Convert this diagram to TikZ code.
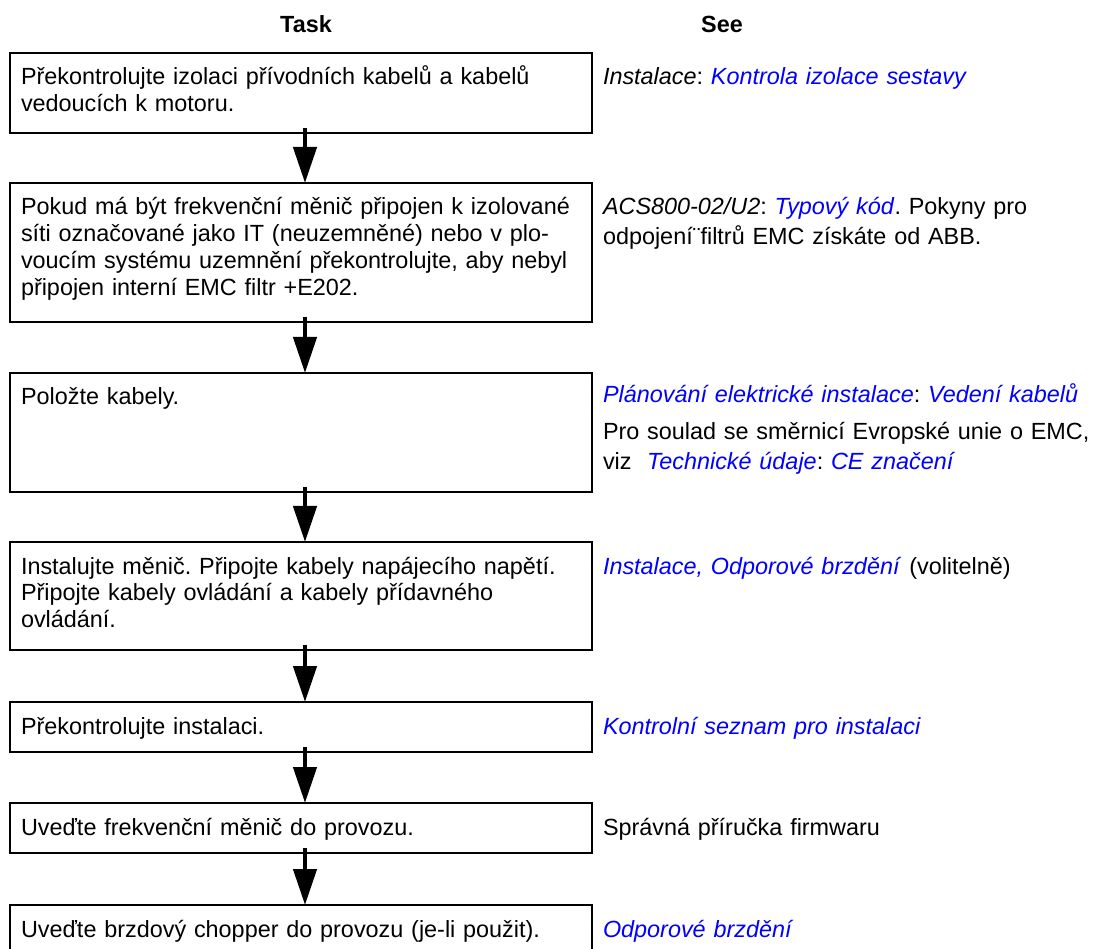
\documentclass[tikz,border=0pt]{standalone}
\usepackage{fontspec}
\setmainfont{Liberation Sans}
\usepackage{tikz}
\usetikzlibrary{arrows.meta}
\definecolor{linkblue}{RGB}{0,0,255}
\newcommand{\link}[1]{\textcolor{linkblue}{\textit{#1}}}
\frenchspacing

\begin{document}
\begin{tikzpicture}[x=1pt,y=-1pt,
  every node/.style={font=\fontsize{23.4pt}{26.7pt}\selectfont, outer sep=0pt},
  head/.style={anchor=base, font=\bfseries\fontsize{23.4pt}{26pt}\selectfont},
  box/.style={draw, line width=2pt, anchor=north west, minimum width=582pt, inner sep=0pt},
  txt/.style={anchor=base west, align=left, text width=575pt, inner sep=0pt},
  see/.style={anchor=base west, align=left, text width=520pt, inner sep=0pt,
    font=\fontsize{23.4pt}{30pt}\selectfont},
  flow/.style={line width=4.5pt, -{Triangle[length=36pt,width=23pt]}}]
\useasboundingbox (0,0) rectangle (1093,949);

\node[head] (task) at (306,33) {Task};
\node[head] (see) at (722,33) {See};

\node[box, minimum height=80pt] (t1) at (10,53) {};
\node[box, minimum height=139pt] (t2) at (10,183) {};
\node[box, minimum height=119pt] (t3) at (10,373) {};
\node[box, minimum height=108pt] (t4) at (10,542) {};
\node[box, minimum height=50pt] (t5) at (10,702) {};
\node[box, minimum height=50pt] (t6) at (10,803) {};
\node[box, minimum height=50pt] (t7) at (10,905) {};

\node[txt] (tx1) at ([xshift=11pt,yshift=-32pt]t1.north west)
  {Překontrolujte izolaci přívodních kabelů a kabelů\\vedoucích k motoru.};
\node[txt] (tx2) at ([xshift=11pt,yshift=-32pt]t2.north west)
  {Pokud má být frekvenční měnič připojen k izolované\\síti označované jako IT (neuzemněné) nebo v plo-\\voucím systému uzemnění překontrolujte, aby nebyl\\připojen interní EMC filtr +E202.};
\node[txt] (tx3) at ([xshift=11pt,yshift=-32pt]t3.north west) {Položte kabely.};
\node[txt] (tx4) at ([xshift=11pt,yshift=-32pt]t4.north west)
  {Instalujte měnič. Připojte kabely napájecího napětí.\\Připojte kabely ovládání a kabely přídavného\\ovládání.};
\node[txt] (tx5) at ([xshift=11pt,yshift=-32pt]t5.north west) {Překontrolujte instalaci.};
\node[txt] (tx6) at ([xshift=11pt,yshift=-32pt]t6.north west) {Uveďte frekvenční měnič do provozu.};
\node[txt] (tx7) at ([xshift=11pt,yshift=-32pt]t7.north west) {Uveďte brzdový chopper do provozu (je-li použit).};

% references
\node[see] (s1) at (603,85) {\textit{Instalace}: \link{Kontrola izolace sestavy}};
\node[see] (s2) at (603,215)
  {\textit{ACS800-02/U2}: \link{Typový kód}. Pokyny pro\\odpojení¨filtrů EMC získáte od ABB.};
\node[see] (s3) at (603,403)
  {\link{Plánování elektrické instalace}: \link{Vedení kabelů}\\[7pt]Pro soulad se směrnicí Evropské unie o EMC,\\viz\ \ \link{Technické údaje}: \link{CE značení}};
\node[see] (s4) at (603,574) {\link{Instalace, Odporové brzdění} (volitelně)};
\node[see] (s5) at (603,734) {\link{Kontrolní seznam pro instalaci}};
\node[see] (s6) at (603,835) {Správná příručka firmwaru};
\node[see] (s7) at (603,937) {\link{Odporové brzdění}};

\foreach \a/\b in {t1/t2,t2/t3,t3/t4,t4/t5,t5/t6,t6/t7}
  \draw[flow] ([xshift=4pt,yshift=5pt]\a.south) -- ([xshift=4pt]\b.north);
\end{tikzpicture}
\end{document}
